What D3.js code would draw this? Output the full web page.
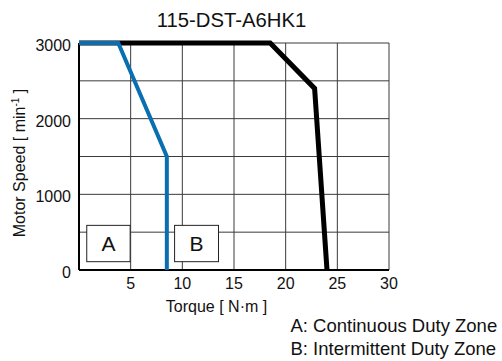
<!DOCTYPE html>
<html><head><meta charset="utf-8">
<script src="https://cdn.jsdelivr.net/npm/d3@7"></script>
<style>body{margin:0;background:#fff}</style>
</head><body>
<svg id="c" width="502" height="361"></svg>
<script>
const title = "115-DST-A6HK1";
const xTicks = [5, 10, 15, 20, 25, 30];
const yTicks = [0, 1000, 2000, 3000];
const xGrid = [0, 5, 10, 15, 20, 25, 30];
const yGrid = [0, 500, 1000, 1500, 2000, 2500, 3000];
const continuousTorque = [0, 3.8, 8.5, 8.5];
const continuousSpeed = [3000, 3000, 1500, 0];
const intermittentTorque = [0, 18.5, 22.8, 24.0];
const intermittentSpeed = [3000, 3000, 2400, 0];
const zoneLabels = ["A", "B"];
const zoneTorque = [[0.75, 4.95], [9.25, 13.5]];
const zoneSpeed = [[110, 590], [110, 590]];
const legendLines = ["A: Continuous Duty Zone", "B: Intermittent Duty Zone"];

const svg = d3.select("#c");
const font = "Liberation Sans, Arial, sans-serif";
const x = d3.scaleLinear().domain([0, 30]).range([79, 389]);
const y = d3.scaleLinear().domain([0, 3000]).range([270, 43]);

const g = svg.append("g");
// grid
g.selectAll(".gx").data(xGrid).enter().append("line")
  .attr("x1", d => x(d)).attr("x2", d => x(d)).attr("y1", y(0)).attr("y2", y(3000))
  .attr("stroke", "#3a3a3a").attr("stroke-width", 1);
g.selectAll(".gy").data(yGrid).enter().append("line")
  .attr("y1", d => y(d)).attr("y2", d => y(d)).attr("x1", x(0)).attr("x2", x(30))
  .attr("stroke", "#3a3a3a").attr("stroke-width", 1);

// zone boxes
zoneLabels.forEach((lab, i) => {
  const x0 = x(zoneTorque[i][0]), x1 = x(zoneTorque[i][1]);
  const y0 = y(zoneSpeed[i][1]), y1 = y(zoneSpeed[i][0]);
  g.append("rect").attr("x", x0).attr("y", y0).attr("width", x1 - x0).attr("height", y1 - y0)
    .attr("fill", "#fff").attr("stroke", "#222").attr("stroke-width", 1);
  g.append("text").attr("x", (x0 + x1) / 2).attr("y", (y0 + y1) / 2 + 7.5)
    .attr("text-anchor", "middle").attr("font-family", font).attr("font-size", 21)
    .attr("fill", "#111").text(lab);
});

// axes lines
g.append("line").attr("x1", x(0)).attr("x2", x(30)).attr("y1", y(0)).attr("y2", y(0))
  .attr("stroke", "#000").attr("stroke-width", 2);
g.append("line").attr("x1", x(0)).attr("x2", x(0)).attr("y1", y(0)).attr("y2", y(3000))
  .attr("stroke", "#000").attr("stroke-width", 2);

const line = d3.line().x(d => x(d[0])).y(d => y(d[1]));
g.append("path").attr("d", line(intermittentTorque.map((t, i) => [t, intermittentSpeed[i]])))
  .attr("fill", "none").attr("stroke", "#000").attr("stroke-width", 5).attr("stroke-linejoin", "miter");
g.append("path").attr("d", line(continuousTorque.map((t, i) => [t, continuousSpeed[i]])))
  .attr("fill", "none").attr("stroke", "#0a6fb0").attr("stroke-width", 4).attr("stroke-linejoin", "miter");

// tick labels
g.selectAll(".tx").data(xTicks).enter().append("text")
  .attr("x", d => x(d)).attr("y", 289).attr("text-anchor", "middle")
  .attr("font-family", font).attr("font-size", 16).attr("fill", "#111").text(d => d);
g.selectAll(".ty").data(yTicks).enter().append("text")
  .attr("x", 71).attr("y", d => y(d) + 8).attr("text-anchor", "end")
  .attr("font-family", font).attr("font-size", 16).attr("fill", "#111").text(d => d);

// title
svg.append("text").attr("x", 231.5).attr("y", 27).attr("text-anchor", "middle")
  .attr("font-family", font).attr("font-size", 20.3).attr("fill", "#111").text(title);
// axis labels
svg.append("text").attr("x", 216.5).attr("y", 311.5).attr("text-anchor", "middle")
  .attr("font-family", font).attr("font-size", 16).attr("fill", "#111").text("Torque [ N·m ]");
const yl = svg.append("text").attr("transform", "translate(25,163) rotate(-90)")
  .attr("text-anchor", "middle").attr("font-family", font).attr("font-size", 16).attr("fill", "#111");
yl.append("tspan").text("Motor Speed [ min");
yl.append("tspan").attr("dy", -6).attr("font-size", 10).text("-1");
yl.append("tspan").attr("dy", 6).text(" ]");

// legend
legendLines.forEach((t, i) => {
  svg.append("text").attr("x", 290.5).attr("y", 332 + i * 22.5)
    .attr("font-family", font).attr("font-size", 18.5).attr("fill", "#111").text(t);
});
</script>
</body></html>
